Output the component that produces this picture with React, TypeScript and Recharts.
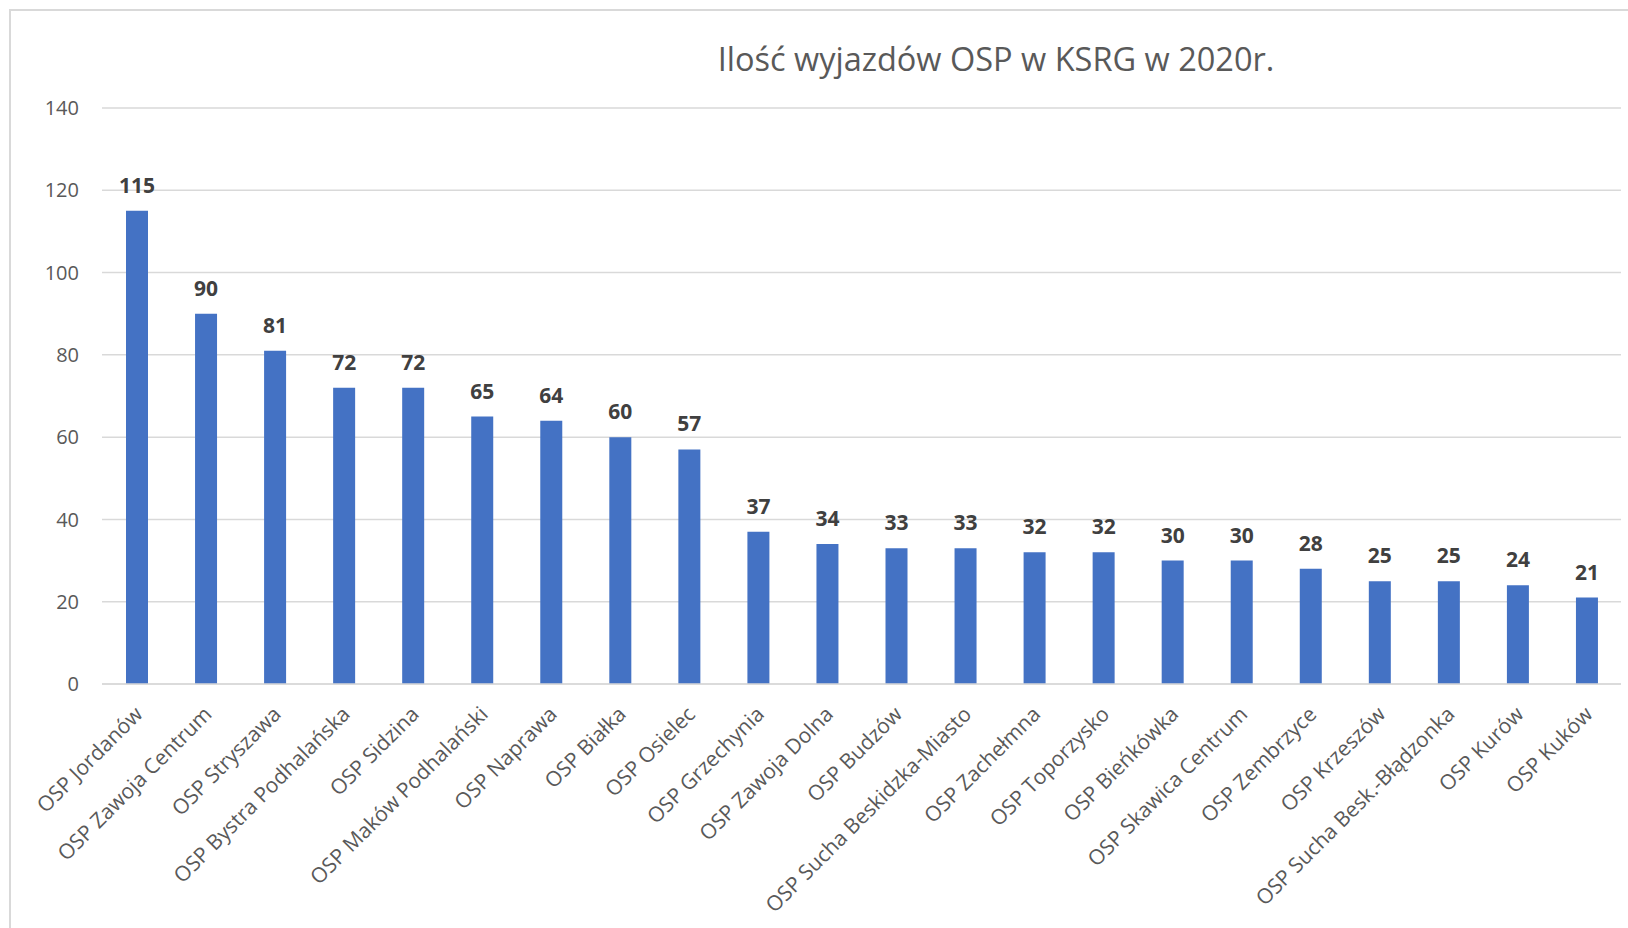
import React from 'react';
import { BarChart, Bar, XAxis, YAxis, CartesianGrid, LabelList } from 'recharts';

const categories: string[] = [
  'OSP Jordanów',
  'OSP Zawoja Centrum',
  'OSP Stryszawa',
  'OSP Bystra Podhalańska',
  'OSP Sidzina',
  'OSP Maków Podhalański',
  'OSP Naprawa',
  'OSP Białka',
  'OSP Osielec',
  'OSP Grzechynia',
  'OSP Zawoja Dolna',
  'OSP Budzów',
  'OSP Sucha Beskidzka-Miasto',
  'OSP Zachełmna',
  'OSP Toporzysko',
  'OSP Bieńkówka',
  'OSP Skawica Centrum',
  'OSP Zembrzyce',
  'OSP Krzeszów',
  'OSP Sucha Besk.-Błądzonka',
  'OSP Kurów',
  'OSP Kuków',
];

const values: number[] = [115, 90, 81, 72, 72, 65, 64, 60, 57, 37, 34, 33, 33, 32, 32, 30, 30, 28, 25, 25, 24, 21];

const yTicks: number[] = [0, 20, 40, 60, 80, 100, 120, 140];

const title = 'Ilość wyjazdów OSP w KSRG w 2020r.';

const data = categories.map((name, i) => ({ name, value: values[i] }));

const FONT = '"Open Sans", "Noto Sans", sans-serif';

export default function App() {
  return (
    <div style={{ position: 'absolute', left: 0, top: 0, width: 1628, height: 928, overflow: 'hidden', background: '#fff', fontFamily: FONT }}>
      <div
        style={{
          position: 'absolute',
          left: 9,
          top: 9,
          width: 1640,
          height: 940,
          borderLeft: '2px solid #d9d9d9',
          borderTop: '2px solid #d9d9d9',
          boxSizing: 'border-box',
        }}
      />
      <div
        style={{
          position: 'absolute',
          left: 596,
          width: 800,
          top: 43,
          textAlign: 'center',
          fontSize: 32.5,
          lineHeight: '32px',
          color: '#595959',
          fontFamily: FONT,
          whiteSpace: 'nowrap',
        }}
      >
        {title}
      </div>
      <div style={{ position: 'absolute', left: 0, top: 0 }}>
        <BarChart
          width={1628}
          height={928}
          data={data}
          margin={{ top: 108, right: 7, left: 0, bottom: 44 }}
        >
          <CartesianGrid vertical={false} stroke="#d9d9d9" strokeWidth={1.5} />
          <XAxis
            dataKey="name"
            interval={0}
            height={200}
            tickLine={false}
            axisLine={{ stroke: '#d9d9d9', strokeWidth: 1.5 }}
            angle={-45}
            textAnchor="end"
            tick={{ fill: '#595959', fontSize: 21, fontFamily: FONT, dx: -3 }}
            tickMargin={15}
          />
          <YAxis
            domain={[0, 140]}
            ticks={yTicks}
            width={102}
            tickLine={false}
            axisLine={false}
            tick={{ fill: '#595959', fontSize: 20, fontFamily: FONT }}
            tickMargin={17}
          />
          <Bar dataKey="value" fill="#4472c4" barSize={22} isAnimationActive={false}>
            <LabelList
              dataKey="value"
              position="top"
              offset={18}
              fill="#404040"
              fontWeight="bold"
              fontSize={21}
              fontFamily={FONT}
            />
          </Bar>
        </BarChart>
      </div>
    </div>
  );
}
